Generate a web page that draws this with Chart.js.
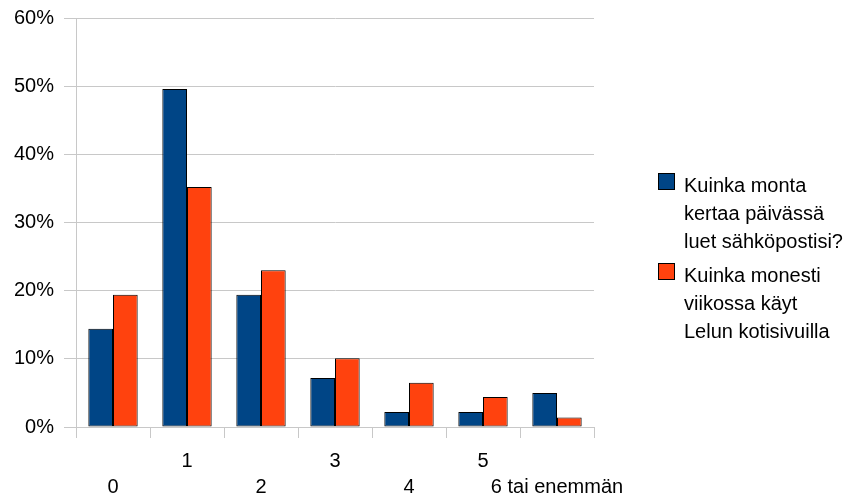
<!DOCTYPE html>
<html>
<head>
<meta charset="utf-8">
<script src="https://cdn.jsdelivr.net/npm/chart.js@4"></script>
<style>
  body { margin:0; background:#fff; font-family:"Liberation Sans", Arial, sans-serif; }
  #wrap { position:relative; width:856px; height:500px; }
  #legend { position:absolute; left:658px; top:171px; font-size:20px; line-height:28px; color:#000; }
  .item { position:relative; padding-left:26px; margin-bottom:6px; }
  .box { position:absolute; left:0; top:2px; width:15px; height:15px; border:1px solid #000; }
</style>
</head>
<body>
<div id="wrap">
  <canvas id="chart" width="856" height="500"></canvas>
  <div id="legend"></div>
</div>
<script>
// DATA
const categories = ["0", "1", "2", "3", "4", "5", "6 tai enemmän"];
const seriesNames = [
  ["Kuinka monta", "kertaa päivässä", "luet sähköpostisi?"],
  ["Kuinka monesti", "viikossa käyt", "Lelun kotisivuilla"]
];
const emailPerDay = [14.4, 49.6, 19.4, 7.2, 2.2, 2.2, 5.0];
const visitsPerWeek = [19.4, 35.2, 23.0, 10.1, 6.5, 4.4, 1.4];
const yTicks = [0, 10, 20, 30, 40, 50, 60];
const colors = ["#004586", "#ff420e"];

const gridGray = "#c8c8c8";

// LEGEND (html, multi-line)
const legend = document.getElementById("legend");
seriesNames.forEach((lines, i) => {
  legend.innerHTML += `<div class="item"><span class="box" style="background:${colors[i]}"></span>${lines.join("<br>")}</div>`;
});

new Chart(document.getElementById("chart"), {
  type: "bar",
  data: {
    labels: categories,
    datasets: [
      { label: seriesNames[0].join(" "), data: emailPerDay, backgroundColor: colors[0], borderColor: "#000", borderWidth: 1, borderSkipped: false },
      { label: seriesNames[1].join(" "), data: visitsPerWeek, backgroundColor: colors[1], borderColor: "#000", borderWidth: 1, borderSkipped: false }
    ]
  },
  options: {
    responsive: false,
    animation: false,
    layout: { padding: { top: 18, right: 262, bottom: 0, left: 0 } },
    plugins: { legend: { display: false }, tooltip: { enabled: false } },
    datasets: { bar: { categoryPercentage: 0.667, barPercentage: 1.0 } },
    scales: {
      x: {
        grid: {
          offset: true,
          drawOnChartArea: true,
          color: c => (c.index === 0 || c.index === categories.length) ? gridGray : "transparent",
          tickColor: gridGray,
          tickLength: 11
        },
        border: { color: gridGray },
        ticks: {
          color: "#000",
          font: { family: "Liberation Sans", size: 20, lineHeight: 1.3 },
          padding: 10,
          maxRotation: 0,
          autoSkip: false,
          callback: (v, i) => i % 2 === 1 ? [categories[i], ""] : ["", categories[i]]
        },
        afterFit: s => { s.height = 73; }
      },
      y: {
        min: yTicks[0],
        max: yTicks[yTicks.length - 1],
        grid: { color: gridGray, tickLength: 12 },
        border: { color: gridGray },
        ticks: {
          stepSize: 10,
          color: "#000",
          font: { family: "Liberation Sans", size: 20 },
          padding: 10,
          callback: v => v + "%"
        },
        afterFit: s => { s.width = 76; s.paddingTop = 0; }
      }
    }
  }
});
</script>
</body>
</html>
